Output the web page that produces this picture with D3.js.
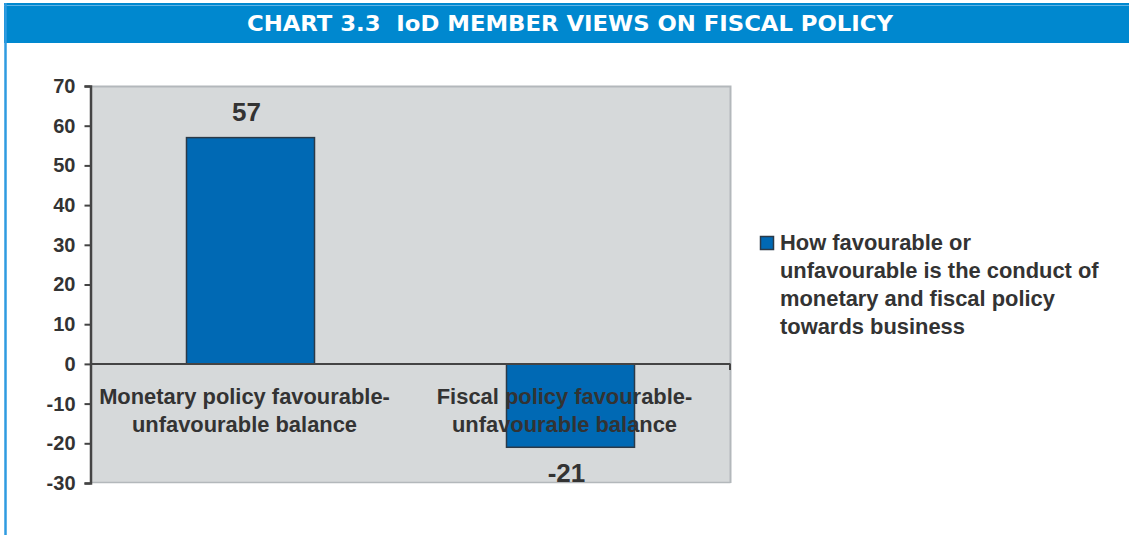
<!DOCTYPE html>
<html>
<head>
<meta charset="utf-8">
<script src="https://cdn.jsdelivr.net/npm/d3@7"></script>
<style>
  html, body { margin: 0; padding: 0; background: #ffffff; }
  svg { display: block; }
  .title { white-space: pre; }
</style>
</head>
<body>
<svg id="chart" width="1129" height="535"></svg>
<script>
// Survey balances shown in the chart
const categories = [
  ["Monetary policy favourable-", "unfavourable balance"],
  ["Fiscal policy favourable-", "unfavourable balance"]
];
const values = [57, -21];
const yTicks = [70, 60, 50, 40, 30, 20, 10, 0, -10, -20, -30];
const titleText = "CHART 3.3  IoD MEMBER VIEWS ON FISCAL POLICY";
const legendLines = [
  "How favourable or",
  "unfavourable is the conduct of",
  "monetary and fiscal policy",
  "towards business"
];

const svg = d3.select("#chart");
const W = 1129, H = 535;
const blue = "#0088cf";
const barBlue = "#0069b4";
const ink = "#333333";
const font = "'Liberation Sans', Arial, sans-serif";
const labelSize = 21.9;
// plain hyphen for negatives
const fmt = d => String(d);

// Header band and frame
svg.append("rect").attr("x", 4).attr("y", 3).attr("width", W - 4).attr("height", 40).attr("fill", blue);
svg.append("line").attr("x1", 4).attr("x2", W).attr("y1", 5.5).attr("y2", 5.5)
  .attr("stroke", "#5fb3e6").attr("stroke-width", 1);
svg.append("line").attr("x1", 5.5).attr("x2", 5.5).attr("y1", 3).attr("y2", H)
  .attr("stroke", "#2f9be0").attr("stroke-width", 2.5);
svg.append("text")
  .attr("class", "title")
  .attr("x", 570).attr("y", 31)
  .attr("text-anchor", "middle")
  .attr("font-family", "'DejaVu Sans Condensed', 'DejaVu Sans', sans-serif")
  .attr("font-weight", "bold")
  .attr("font-size", 22)
  .attr("textLength", 646)
  .attr("lengthAdjust", "spacingAndGlyphs")
  .attr("fill", "#ffffff")
  .text(titleText);

// Plot geometry
const plot = { left: 90.5, right: 730.5, top: 86, bottom: 483 };

const y = d3.scaleLinear().domain([-30, 70]).range([plot.bottom, plot.top]);
const x = d3.scaleBand()
  .domain(d3.range(categories.length))
  .range([plot.left, plot.right])
  .paddingInner(0)
  .paddingOuter(0);
// bar width with a 150% gap between bars
const barW = x.bandwidth() / 2.5;

// Plot background
svg.append("rect")
  .attr("x", plot.left).attr("y", plot.top)
  .attr("width", plot.right - plot.left).attr("height", plot.bottom - plot.top)
  .attr("fill", "#d6d9da");
svg.append("path")
  .attr("d", `M${plot.left},${plot.top + 0.5}H${plot.right}V${plot.bottom}`)
  .attr("fill", "none").attr("stroke", "#b3b8bb").attr("stroke-width", 2);
svg.append("line")
  .attr("x1", plot.left).attr("x2", plot.right)
  .attr("y1", plot.bottom - 0.5).attr("y2", plot.bottom - 0.5)
  .attr("stroke", "#b3b8bb").attr("stroke-width", 1.5);

// Bars
svg.append("g").selectAll("rect")
  .data(values)
  .join("rect")
  .attr("x", (d, i) => x(i) + (x.bandwidth() - barW) / 2)
  .attr("y", d => y(Math.max(0, d)))
  .attr("width", barW)
  .attr("height", d => Math.abs(y(d) - y(0)))
  .attr("fill", barBlue)
  .attr("stroke", "#2b3a48")
  .attr("stroke-width", 1.5);

// Category axis along zero
const xAxis = svg.append("g");
xAxis.append("line")
  .attr("x1", plot.left).attr("x2", plot.right)
  .attr("y1", y(0)).attr("y2", y(0))
  .attr("stroke", "#444").attr("stroke-width", 2);
xAxis.append("line")
  .attr("x1", plot.right - 0.5).attr("x2", plot.right - 0.5)
  .attr("y1", y(0)).attr("y2", y(0) + 6)
  .attr("stroke", "#444").attr("stroke-width", 2);

// Category labels
svg.append("g").selectAll("text")
  .data(categories)
  .join("text")
  .attr("text-anchor", "middle")
  .attr("font-family", font)
  .attr("font-weight", "bold")
  .attr("font-size", labelSize)
  .attr("fill", ink)
  .each(function(lines, i) {
    d3.select(this).selectAll("tspan")
      .data(lines)
      .join("tspan")
      .attr("x", x(i) + x.bandwidth() / 2 - 6)
      .attr("y", (l, j) => 404 + j * 28)
      .text(l => l);
  });

// Y axis
const yAxis = d3.axisLeft(y).tickValues(yTicks).tickSize(6).tickPadding(9).tickFormat(fmt);
const gy = svg.append("g").attr("transform", `translate(${plot.left},0)`).call(yAxis);
gy.select(".domain").attr("stroke", "#444").attr("stroke-width", 2.5);
gy.selectAll(".tick line").attr("stroke", "#444").attr("stroke-width", 2);
gy.selectAll(".tick text")
  .attr("font-family", font)
  .attr("font-weight", "bold")
  .attr("font-size", 20)
  .attr("fill", ink);

// Value labels
svg.append("g").selectAll("text")
  .data(values)
  .join("text")
  .attr("x", (d, i) => x(i) + x.bandwidth() / 2 - 4)
  .attr("y", d => d >= 0 ? y(d) - 17 : y(d) + 35)
  .attr("text-anchor", "middle")
  .attr("font-family", font)
  .attr("font-weight", "bold")
  .attr("font-size", 26)
  .attr("fill", ink)
  .text(fmt);

// Legend
const lg = svg.append("g").attr("transform", "translate(760,236)");
lg.append("rect").attr("x", 0.5).attr("y", 0.5).attr("width", 13).attr("height", 13)
  .attr("fill", barBlue).attr("stroke", "#2b3a48").attr("stroke-width", 1.5);
lg.append("text")
  .attr("font-family", font)
  .attr("font-weight", "bold")
  .attr("font-size", labelSize)
  .attr("fill", ink)
  .selectAll("tspan")
  .data(legendLines)
  .join("tspan")
  .attr("x", 20)
  .attr("y", (d, i) => 14 + i * 28)
  .text(d => d);
</script>
</body>
</html>
